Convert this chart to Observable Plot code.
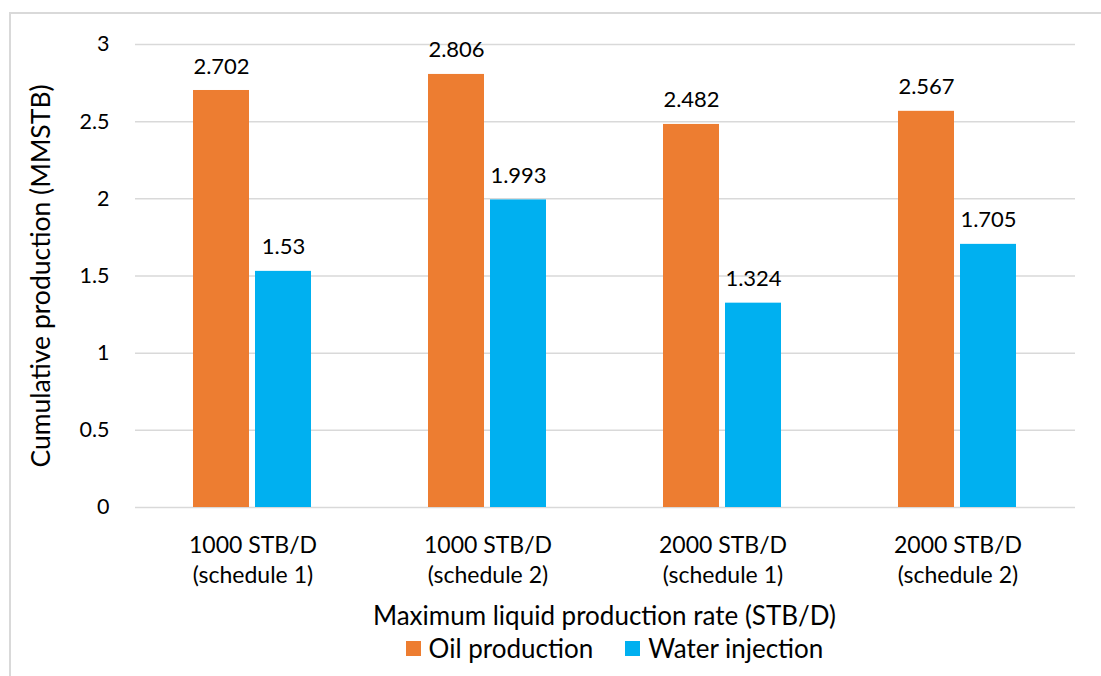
<!DOCTYPE html>
<html><head><meta charset="utf-8">
<script src="https://cdn.jsdelivr.net/npm/d3@7"></script>
<script src="https://cdn.jsdelivr.net/npm/@observablehq/plot@0.6"></script>
<style>
body{margin:0;background:#fff;font-family:Lato,"Open Sans",sans-serif;color:#000;}
#frame{position:absolute;left:9px;top:12px;width:1200px;height:800px;border:2px solid #d9d9d9;box-sizing:border-box;}
#chart{position:absolute;left:0;top:0;}
#xtitle{position:absolute;left:134px;width:941px;top:598px;text-align:center;font-size:26px;line-height:34px;white-space:nowrap;}
#ytitle{position:absolute;left:40px;top:276px;transform:translate(-50%,-50%) rotate(-90deg);font-size:26.5px;white-space:nowrap;line-height:30px;}
#legend{position:absolute;top:632px;left:144px;width:941px;height:32px;display:flex;justify-content:center;align-items:center;font-size:26px;color:#000;}
.item{display:flex;align-items:center;margin:0 16px;}
.sw{width:15px;height:15px;margin-right:8px;display:inline-block;}
</style></head>
<body>
<div id="frame"></div>
<div id="chart"></div>
<div id="ytitle">Cumulative production (MMSTB)</div>
<div id="xtitle">Maximum liquid production rate (STB/D)</div>
<div id="legend"></div>
<script>
const categories = ["1000 STB/D\n(schedule 1)", "1000 STB/D\n(schedule 2)", "2000 STB/D\n(schedule 1)", "2000 STB/D\n(schedule 2)"];
const series = ["Oil production", "Water injection"];
const oilValues = [2.702, 2.806, 2.482, 2.567];
const waterValues = [1.53, 1.993, 1.324, 1.705];
const yTicks = [0, 0.5, 1, 1.5, 2, 2.5, 3];
const colors = ["#ED7D31", "#00B0F0"];

const rows = categories.flatMap((c, i) => [
  {category: c, series: series[0], value: oilValues[i]},
  {category: c, series: series[1], value: waterValues[i]}
]);

const font = "Lato, 'Open Sans', sans-serif";
const chart = Plot.plot({
  width: 1101, height: 630,
  marginLeft: 134, marginRight: 26, marginTop: 44, marginBottom: 123,
  style: {fontFamily: font, fontSize: "20px", color: "#000", background: "transparent"},
  fx: {domain: categories, padding: 0, label: null},
  x: {domain: series, paddingInner: 0.095, paddingOuter: 0.915, axis: null},
  y: {domain: [0, 3]},
  color: {domain: series, range: colors},
  marks: [
    Plot.gridY(yTicks, {stroke: "#d9d9d9", strokeOpacity: 1, strokeWidth: 1.5}),
    Plot.axisY(yTicks, {tickSize: 0, tickPadding: 26, fontSize: 21.5, tickFormat: d => String(d), label: null}),
    Plot.barY(rows, {fx: "category", x: "series", y: "value", fill: "series"}),
    Plot.text(rows, {fx: "category", x: "series", y: "value", text: d => String(d.value), dy: -24, fontSize: 22, fill: "#000"}),
    Plot.axisFx({anchor: "bottom", tickSize: 0, tickPadding: 24, fontSize: 23, lineHeight: 1.3, label: null})
  ]
});
document.getElementById("chart").appendChild(chart);

const legend = document.getElementById("legend");
series.forEach((s, i) => {
  const it = document.createElement("div");
  it.className = "item";
  it.innerHTML = `<span class="sw" style="background:${colors[i]}"></span><span>${s}</span>`;
  legend.appendChild(it);
});
</script>
</body></html>
